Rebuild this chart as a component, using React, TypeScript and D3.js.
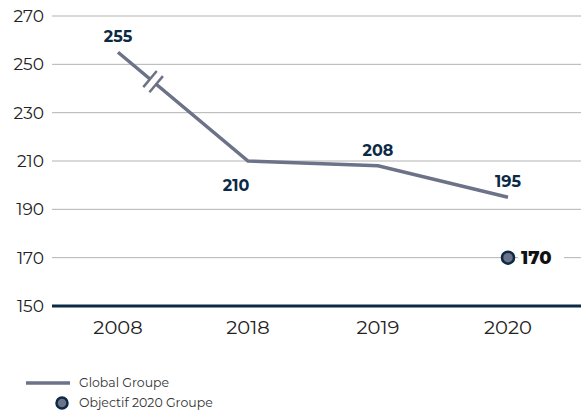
import React, {useRef, useEffect} from "react";
import {select, scaleBand, scaleLinear, line} from "d3";

const years = ["2008", "2018", "2019", "2020"];
const globalValues = [255, 210, 208, 195];
const objectiveYear = "2020";
const objectiveValue = 170;
const yTicks = [150, 170, 190, 210, 230, 250, 270];
const labelOffsets = [-16, 24, -15, -16]; // label above/below point
const labelDx = [0, -12, 0, 0];

const legendItems = ["Global Groupe", "Objectif 2020 Groupe"];

export default function App() {
    const svgRef = useRef<SVGSVGElement | null>(null);

    const width = 581;
    const height = 411;
    const marginLeft = 52;
    const navy = "#0c2a45";
    const lineColor = "#6c7287";
    const font = "Montserrat, 'Open Sans', Lato, sans-serif";

    useEffect(() => {
        const svg = select(svgRef.current);
        if (!svgRef.current) return;
        svg.selectAll("*").remove();

        const x = scaleBand().domain(years).range([53, 573]);
        const y = scaleLinear().domain([150, 270]).range([306, 16]);
        const cx = (d: string) => (x(d) || 0) + x.bandwidth() / 2;

        // gridlines
        svg.append("g")
            .selectAll("line")
            .data(yTicks.filter((t) => t !== 150))
            .join("line")
            .attr("x1", marginLeft)
            .attr("x2", width)
            .attr("y1", (d) => y(d))
            .attr("y2", (d) => y(d))
            .attr("stroke", "#b3b3b3")
            .attr("stroke-width", 1);

        // y labels
        svg.append("g")
            .selectAll("text")
            .data(yTicks)
            .join("text")
            .attr("x", 44)
            .attr("y", (d) => y(d))
            .attr("dy", "0.35em")
            .attr("text-anchor", "end")
            .attr("font-family", font)
            .attr("font-size", 17)
            .attr("fill", "#222")
            .text((d) => d);

        // baseline
        svg.append("line")
            .attr("x1", marginLeft)
            .attr("x2", width)
            .attr("y1", y(150))
            .attr("y2", y(150))
            .attr("stroke", navy)
            .attr("stroke-width", 3);

        // x labels
        svg.append("g")
            .selectAll("text")
            .data(years)
            .join("text")
            .attr("x", (d) => cx(d))
            .attr("y", y(150) + 21)
            .attr("dy", "0.35em")
            .attr("text-anchor", "middle")
            .attr("font-family", font)
            .attr("font-size", 19.5)
            .attr("fill", "#222")
            .text((d) => d);

        // the line
        const pts: [number, number][] = years.map((d, i) => [cx(d), y(globalValues[i])]);
        svg.append("path")
            .attr("d", line()(pts) || "")
            .attr("fill", "none")
            .attr("stroke", lineColor)
            .attr("stroke-width", 3.5);

        // break mark on the first segment
        const [p0, p1] = [pts[0], pts[1]];
        const t = 0.27;
        const bx = p0[0] + (p1[0] - p0[0]) * t;
        const by = p0[1] + (p1[1] - p0[1]) * t;
        const len = Math.hypot(p1[0] - p0[0], p1[1] - p0[1]);
        const ux = (p1[0] - p0[0]) / len;
        const uy = (p1[1] - p0[1]) / len;
        const nx = -uy;
        const ny = ux;
        const gap = 4;
        svg.append("line")
            .attr("x1", bx - ux * gap)
            .attr("y1", by - uy * gap)
            .attr("x2", bx + ux * gap)
            .attr("y2", by + uy * gap)
            .attr("stroke", "#fff")
            .attr("stroke-width", 6);
        [-gap, gap].forEach((o) => {
            svg.append("line")
                .attr("x1", bx + ux * o - nx * 10.5)
                .attr("y1", by + uy * o - ny * 10.5)
                .attr("x2", bx + ux * o + nx * 10.5)
                .attr("y2", by + uy * o + ny * 10.5)
                .attr("stroke", lineColor)
                .attr("stroke-width", 2.5);
        });

        // value labels
        svg.append("g")
            .selectAll("text")
            .data(globalValues)
            .join("text")
            .attr("x", (d, i) => cx(years[i]) + labelDx[i])
            .attr("y", (d, i) => y(d) + labelOffsets[i])
            .attr("dy", "0.35em")
            .attr("text-anchor", "middle")
            .attr("font-family", font)
            .attr("font-weight", 700)
            .attr("font-size", 16)
            .attr("fill", navy)
            .text((d) => d);

        // objective point
        const ox = cx(objectiveYear);
        const oy = y(objectiveValue);
        svg.append("rect")
            .attr("x", ox + 10)
            .attr("y", oy - 9)
            .attr("width", 46)
            .attr("height", 18)
            .attr("fill", "#fff");
        svg.append("circle")
            .attr("cx", ox)
            .attr("cy", oy)
            .attr("r", 6)
            .attr("fill", lineColor)
            .attr("stroke", navy)
            .attr("stroke-width", 2.5);
        svg.append("text")
            .attr("x", ox + 13)
            .attr("y", oy)
            .attr("dy", "0.35em")
            .attr("font-family", font)
            .attr("font-weight", 800)
            .attr("font-size", 18)
            .attr("fill", "#111")
            .text(objectiveValue);

        // legend
        const lg = svg.append("g");
        lg.append("line")
            .attr("x1", 26)
            .attr("x2", 70)
            .attr("y1", 383)
            .attr("y2", 383)
            .attr("stroke", lineColor)
            .attr("stroke-width", 3.5);
        lg.append("circle")
            .attr("cx", 62)
            .attr("cy", 403)
            .attr("r", 5.5)
            .attr("fill", lineColor)
            .attr("stroke", navy)
            .attr("stroke-width", 2.5);
        lg.selectAll("text")
            .data(legendItems)
            .join("text")
            .attr("x", 79)
            .attr("y", (d, i) => 383 + i * 20)
            .attr("dy", "0.35em")
            .attr("font-family", font)
            .attr("font-size", 12.5)
            .attr("fill", "#333")
            .text((d) => d);
    }, []);

    return (
        <svg
            ref={svgRef}
            width={width}
            height={height}
            style={{position: "absolute", left: 0, top: 0, background: "#fff"}}
        ></svg>
    );
}
